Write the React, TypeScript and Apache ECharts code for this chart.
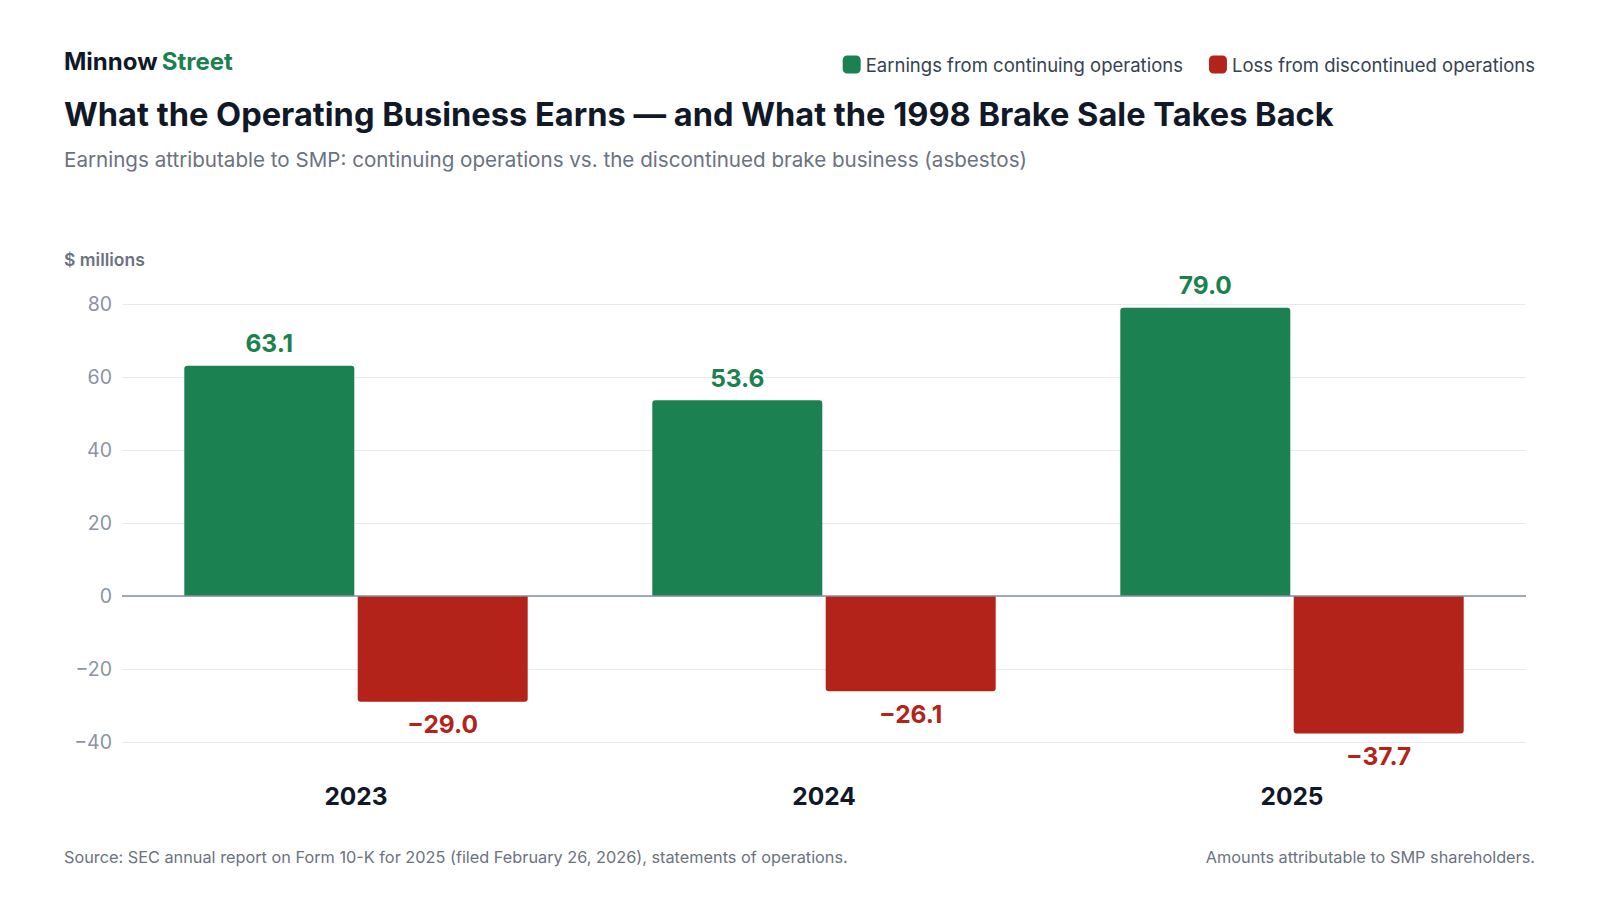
import React, { useEffect, useRef } from "react";
import * as echarts from "echarts";

const years = ["2023", "2024", "2025"];
const continuing = [63.1, 53.6, 79.0];
const discontinued = [-29.0, -26.1, -37.7];

const GREEN = "#1c8150";
const RED = "#b3231a";
const FONT = "Inter, 'Noto Sans', sans-serif";

export default function App() {
  const ref = useRef<HTMLDivElement>(null);
  useEffect(() => {
    document.body.style.margin = "0";
    const chart = echarts.init(ref.current!, null, { renderer: "svg" });
    chart.setOption({
      animation: false,
      backgroundColor: "#ffffff",
      textStyle: { fontFamily: FONT },
      title: [
        {
          text: "{a|Minnow} {b|Street}",
          left: 59, top: 44,
          textStyle: { rich: {
            a: { fontSize: 24, fontWeight: "bold", color: "#111827", fontFamily: FONT },
            b: { fontSize: 24, fontWeight: "bold", color: GREEN, fontFamily: FONT },
          } },
        },
        {
          text: "What the Operating Business Earns — and What the 1998 Brake Sale Takes Back",
          left: 59, top: 92,
          textStyle: { fontSize: 32.6, fontWeight: "bold", color: "#111827", fontFamily: FONT },
        },
        {
          text: "Earnings attributable to SMP: continuing operations vs. the discontinued brake business (asbestos)",
          left: 59, top: 144,
          textStyle: { fontSize: 20.6, fontWeight: "normal", color: "#6b7280", fontFamily: FONT },
        },
        {
          text: "$ millions", left: 59, top: 245,
          textStyle: { fontSize: 17.5, fontWeight: 600, color: "#6b7280", fontFamily: FONT },
        },
        {
          text: "Source: SEC annual report on Form 10-K for 2025 (filed February 26, 2026), statements of operations.",
          left: 59, top: 844,
          textStyle: { fontSize: 16.3, fontWeight: "normal", color: "#6b7280", fontFamily: FONT },
        },
        {
          text: "Amounts attributable to SMP shareholders.",
          right: 60, top: 844,
          textStyle: { fontSize: 16.3, fontWeight: "normal", color: "#6b7280", fontFamily: FONT },
        },
      ],
      legend: {
        right: 60, top: 50, itemWidth: 18, itemHeight: 18, itemGap: 26,
        icon: "roundRect",
        textStyle: { fontSize: 18.5, color: "#374151", fontFamily: FONT },
        data: ["Earnings from continuing operations", "Loss from discontinued operations"],
      },
      grid: { left: 122, right: 74, top: 304, bottom: 158 },
      xAxis: {
        type: "category", data: years,
        axisLine: { show: false, onZero: false }, axisTick: { show: false },
        axisLabel: { fontSize: 24.5, fontWeight: "bold", color: "#111827", margin: 41, fontFamily: FONT },
      },
      yAxis: {
        type: "value", min: -40, max: 80, interval: 20,
        axisLabel: {
          fontSize: 19.5, color: "#8a94a6", margin: 10, fontFamily: FONT,
          formatter: (v: number) => (v < 0 ? "−" + Math.abs(v) : String(v)),
        },
        splitLine: { lineStyle: { color: "#e8eaee" } },
      },
      series: [
        {
          name: "Earnings from continuing operations", type: "bar", data: continuing,
          barWidth: 170, barGap: "2%",
          itemStyle: { color: GREEN, borderRadius: [3, 3, 0, 0] },
          label: {
            show: true, position: "top", distance: 10, fontSize: 24.5, fontWeight: "bold",
            color: GREEN, fontFamily: FONT, formatter: (p: any) => p.value.toFixed(1),
          },
          markLine: {
            silent: true, symbol: "none", label: { show: false },
            lineStyle: { color: "#8090a0", width: 1.5, type: "solid" },
            data: [{ yAxis: 0 }],
          },
        },
        {
          name: "Loss from discontinued operations", type: "bar", data: discontinued,
          barWidth: 170,
          itemStyle: { color: RED, borderRadius: [0, 0, 3, 3] },
          label: {
            show: true, position: "bottom", distance: 10, fontSize: 24.5, fontWeight: "bold",
            color: RED, fontFamily: FONT,
            formatter: (p: any) => "−" + Math.abs(p.value).toFixed(1),
          },
        },
      ],
    });
    return () => chart.dispose();
  }, []);
  return <div ref={ref} style={{ width: 1600, height: 900 }} />;
}
